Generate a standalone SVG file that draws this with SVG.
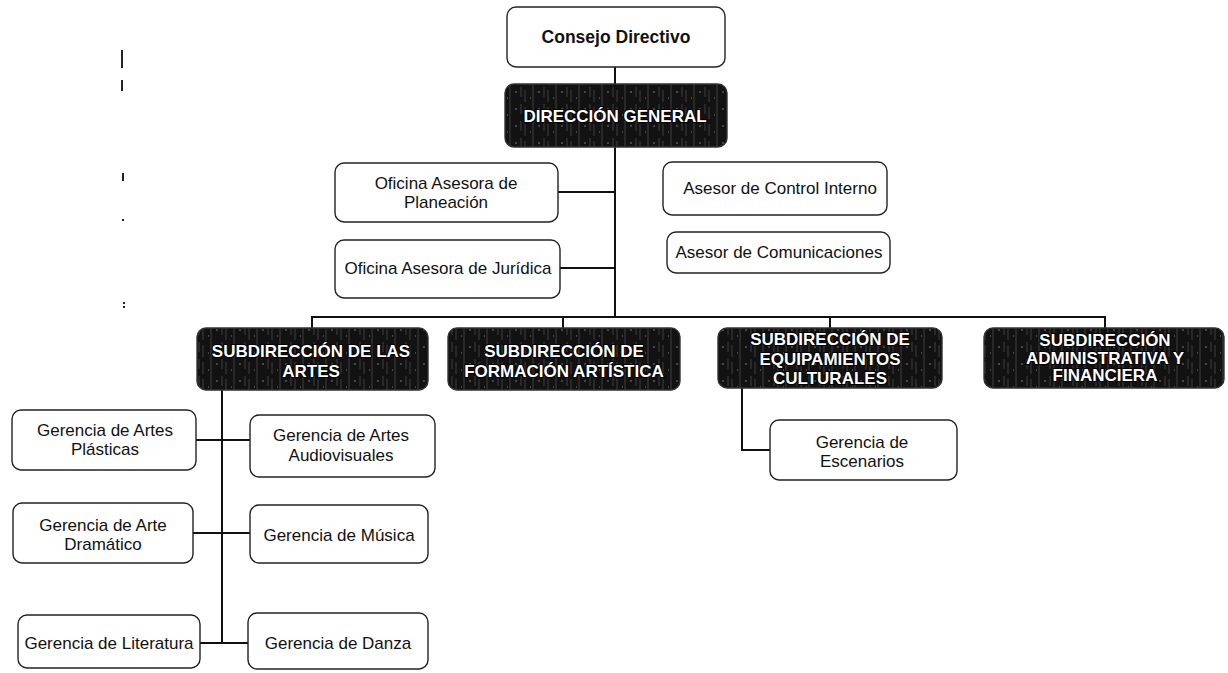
<svg xmlns="http://www.w3.org/2000/svg" width="1228" height="673" viewBox="0 0 1228 673">
<defs>
<pattern id="grain" width="23" height="17" patternUnits="userSpaceOnUse">
<rect width="23" height="17" fill="#121212"/>
<path d="M4 0V17M15 2V12M19 5V17" stroke="#5a5a5a" stroke-width="1" opacity="0.6"/>
<path d="M9 7h2M1 13h1" stroke="#777" stroke-width="1"/>
</pattern>
</defs>
<style>
.box{fill:#fff;stroke:#222;stroke-width:1.4}
.dark{fill:url(#grain);stroke:#333;stroke-width:1.4}
.t{font-family:"Liberation Sans",Arial,sans-serif;font-size:17px;fill:#111;text-anchor:middle}
.b{font-weight:bold}
.w{font-family:"Liberation Sans",Arial,sans-serif;font-size:17px;font-weight:bold;fill:#fff;stroke:#000;stroke-width:2;paint-order:stroke;text-anchor:middle}
.ln{fill:none;stroke:#111;stroke-width:2}
.mk{stroke:#222;stroke-width:2}
</style>
<rect width="1228" height="673" fill="#fff"/>
<g id="marks">
<line class="mk" x1="122" y1="50" x2="122" y2="68"/>
<line class="mk" x1="122" y1="80" x2="122" y2="91"/>
<line class="mk" x1="123" y1="173" x2="123" y2="181"/>
<line class="mk" x1="123" y1="219" x2="123" y2="221"/>
<line class="mk" x1="124" y1="302" x2="124" y2="310" stroke-dasharray="2 2"/>
</g>
<g id="connectors">
<path class="ln" d="M615 67V84M615 147V317"/>
<path class="ln" d="M558 192H615M560 268H615"/>
<path class="ln" d="M312 328V317H1105V328M563 317V328M830 317V328"/>
<path class="ln" d="M222 390V643"/>
<path class="ln" d="M196 440H250M193 533H250M200 643H248"/>
<path class="ln" d="M742 388V450H770"/>
</g>
<g id="consejo"><rect class="box" x="507" y="7" width="218" height="60" rx="9"/><text class="t b" x="616" y="43" style="font-size:17.5px">Consejo Directivo</text></g>
<g id="direccion"><rect class="dark" x="505" y="84" width="222" height="63" rx="9"/><text class="w" x="615" y="122">DIRECCIÓN GENERAL</text></g>
<g id="planeacion"><rect class="box" x="335" y="163" width="223" height="59" rx="9"/><text class="t" x="446" y="189">Oficina Asesora de</text><text class="t" x="446" y="208">Planeación</text></g>
<g id="juridica"><rect class="box" x="335" y="240" width="225" height="58" rx="9"/><text class="t" x="448" y="274">Oficina Asesora de Jurídica</text></g>
<g id="control"><rect class="box" x="663" y="162" width="224" height="53" rx="9"/><text class="t" x="780" y="194">Asesor de Control Interno</text></g>
<g id="comunicaciones"><rect class="box" x="667" y="232" width="223" height="41" rx="9"/><text class="t" x="779" y="258">Asesor de Comunicaciones</text></g>
<g id="sub_artes"><rect class="dark" x="197" y="328" width="231" height="62" rx="9"/><text class="w" x="311" y="357">SUBDIRECCIÓN DE LAS</text><text class="w" x="311" y="377">ARTES</text></g>
<g id="sub_formacion"><rect class="dark" x="448" y="328" width="232" height="62" rx="9"/><text class="w" x="564" y="357">SUBDIRECCIÓN DE</text><text class="w" x="564" y="377">FORMACIÓN ARTÍSTICA</text></g>
<g id="sub_equip"><rect class="dark" x="718" y="328" width="224" height="60" rx="9"/><text class="w" x="830" y="345">SUBDIRECCIÓN DE</text><text class="w" x="830" y="365">EQUIPAMIENTOS</text><text class="w" x="830" y="384">CULTURALES</text></g>
<g id="sub_admin"><rect class="dark" x="984" y="328" width="240" height="60" rx="9"/><text class="w" x="1105" y="346">SUBDIRECCIÓN</text><text class="w" x="1105" y="364">ADMINISTRATIVA Y</text><text class="w" x="1105" y="381">FINANCIERA</text></g>
<g id="plasticas"><rect class="box" x="12" y="410" width="184" height="60" rx="9"/><text class="t" x="105" y="436">Gerencia de Artes</text><text class="t" x="105" y="455">Plásticas</text></g>
<g id="audiovisuales"><rect class="box" x="250" y="415" width="185" height="62" rx="9"/><text class="t" x="341" y="441">Gerencia de Artes</text><text class="t" x="341" y="461">Audiovisuales</text></g>
<g id="dramatico"><rect class="box" x="13" y="503" width="180" height="60" rx="9"/><text class="t" x="103" y="531">Gerencia de Arte</text><text class="t" x="103" y="550">Dramático</text></g>
<g id="musica"><rect class="box" x="250" y="505" width="178" height="58" rx="9"/><text class="t" x="339" y="541">Gerencia de Música</text></g>
<g id="literatura"><rect class="box" x="18" y="615" width="182" height="53" rx="9"/><text class="t" x="109" y="649">Gerencia de Literatura</text></g>
<g id="danza"><rect class="box" x="248" y="613" width="180" height="56" rx="9"/><text class="t" x="338" y="649">Gerencia de Danza</text></g>
<g id="escenarios"><rect class="box" x="770" y="420" width="187" height="60" rx="9"/><text class="t" x="862" y="448">Gerencia de</text><text class="t" x="862" y="467">Escenarios</text></g>
</svg>
